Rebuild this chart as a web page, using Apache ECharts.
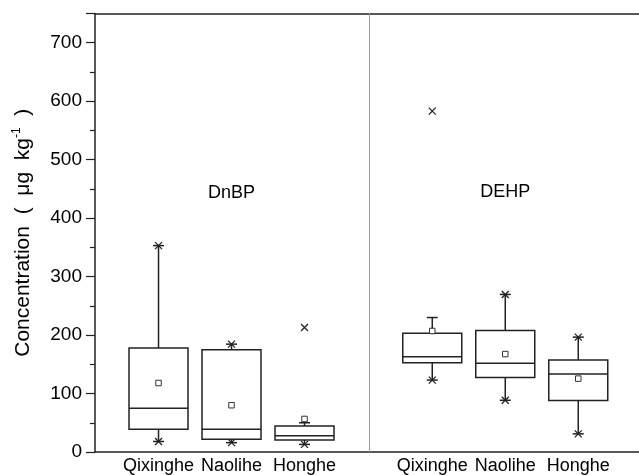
<!DOCTYPE html>
<html>
<head>
<meta charset="utf-8">
<script src="https://cdn.jsdelivr.net/npm/echarts@6/dist/echarts.min.js"></script>
<style>html,body{margin:0;padding:0;background:#fff;}#c{width:639px;height:475px;}</style>
</head>
<body>
<div id="c"></div>
<script>
// ---- data ----
const sites = ['Qixinghe', 'Naolihe', 'Honghe', 'Qixinghe', 'Naolihe', 'Honghe'];
const compounds = ['DnBP', 'DEHP'];
const xPos = [1, 2, 3, 4.75, 5.75, 6.75];
const compoundPos = [2, 5.75];
const compoundLabelY = [443, 444];
const dividerPos = 3.875;
const whiskerLow = [18, 16, 13, 123, 88.5, 31];
const q1 = [39, 22, 20.5, 152.5, 127.5, 88];
const median = [75, 39, 28, 163, 152, 133.5];
const q3 = [178, 175, 44.5, 203, 208, 157.5];
const whiskerHigh = [353, 184.5, 50, 230, 269.5, 196.5];
const means = [118, 80, 56.5, 207, 167.5, 125.5];
// x-marked points (extremes / outliers): [siteIndex, value]
const crossIdx = [0, 0, 1, 1, 2, 2, 3, 3, 4, 4, 5, 5];
const crossVal = [353, 18, 184.5, 16, 213, 13, 583, 123, 269.5, 88.5, 196.5, 31];
const yTicks = [0, 100, 200, 300, 400, 500, 600, 700];

const boxData = xPos.map((x, i) => [x, whiskerLow[i], q1[i], median[i], q3[i], whiskerHigh[i]]);
const meanData = xPos.map((x, i) => [x, means[i]]);
const crossData = crossIdx.map((k, i) => [xPos[k], crossVal[i]]);
const labelData = compounds.map((c, i) => ({ value: [compoundPos[i], compoundLabelY[i]], name: c }));

const INK = '#222';
const TXT = '#000';
const FONT = 'Liberation Sans, Arial, sans-serif';
const X_MIN = 0.13, X_MAX = 7.582;

const chart = echarts.init(document.getElementById('c'), null, { renderer: 'canvas' });
chart.setOption({
  backgroundColor: '#fff',
  animation: false,
  grid: { left: 95, top: 13.5, bottom: 23, right: 0, show: false },
  xAxis: [{
    type: 'value', min: X_MIN, max: X_MAX,
    splitLine: { show: false },
    axisLine: { show: true, onZero: false, lineStyle: { color: INK, width: 1.5 } },
    axisTick: { show: false },
    axisLabel: {
      customValues: xPos,
      margin: 5,
      color: TXT, fontSize: 18, fontFamily: FONT,
      formatter: function (v) { const i = xPos.indexOf(v); return i >= 0 ? sites[i] : ''; }
    }
  }, {
    type: 'value', position: 'top', min: X_MIN, max: X_MAX,
    splitLine: { show: false },
    axisLine: { show: true, onZero: false, lineStyle: { color: INK, width: 1.5 } },
    axisTick: { show: false },
    axisLabel: { show: false }
  }],
  yAxis: {
    type: 'value', min: 0, max: 750, interval: 100,
    name: 'Concentration  (  {n|μg  kg}{s|-1}{n|  )}',
    nameLocation: 'middle', nameGap: 60, nameRotate: 90,
    nameTextStyle: {
      fontSize: 21, fontFamily: FONT, color: TXT,
      rich: {
        n: { fontSize: 21, fontFamily: FONT, color: TXT },
        s: { fontSize: 12, fontFamily: FONT, color: TXT, verticalAlign: 'top', padding: [0, 0, 12, 0] }
      }
    },
    splitLine: { show: false },
    axisLine: { show: true, lineStyle: { color: INK, width: 1.5 } },
    axisTick: { show: true, inside: false, length: 9, lineStyle: { color: INK, width: 1.2 } },
    minorTick: { show: true, splitNumber: 2, length: 5, lineStyle: { color: INK, width: 1.2 } },
    axisLabel: {
      margin: 13, color: TXT, fontSize: 19, fontFamily: FONT,
      showMaxLabel: false,
      formatter: function (v) { return yTicks.indexOf(v) >= 0 ? String(v) : ''; }
    }
  },
  series: [
    {
      type: 'custom',
      data: boxData,
      encode: { x: 0, y: [1, 2, 3, 4, 5] },
      renderItem: function (params, api) {
        const x = api.value(0);
        const pMin = api.coord([x, api.value(1)]);
        const pQ1 = api.coord([x, api.value(2)]);
        const pMed = api.coord([x, api.value(3)]);
        const pQ3 = api.coord([x, api.value(4)]);
        const pMax = api.coord([x, api.value(5)]);
        const cx = pMed[0];
        const hw = 29.5, cw = 5.5;
        const st = { stroke: INK, lineWidth: 1.5, fill: null };
        return {
          type: 'group',
          children: [
            { type: 'line', shape: { x1: cx, y1: pQ3[1], x2: cx, y2: pMax[1] }, style: st },
            { type: 'line', shape: { x1: cx, y1: pQ1[1], x2: cx, y2: pMin[1] }, style: st },
            { type: 'line', shape: { x1: cx - cw, y1: pMax[1], x2: cx + cw, y2: pMax[1] }, style: st },
            { type: 'line', shape: { x1: cx - cw, y1: pMin[1], x2: cx + cw, y2: pMin[1] }, style: st },
            { type: 'rect', shape: { x: cx - hw, y: pQ3[1], width: 2 * hw, height: pQ1[1] - pQ3[1] }, style: { stroke: INK, lineWidth: 1.5, fill: '#fff' } },
            { type: 'line', shape: { x1: cx - hw, y1: pMed[1], x2: cx + hw, y2: pMed[1] }, style: st }
          ]
        };
      },
      markLine: {
        silent: true, symbol: 'none', label: { show: false },
        lineStyle: { color: '#9a9a9a', width: 1, type: 'solid' },
        data: [{ xAxis: dividerPos }]
      },
      z: 2
    },
    {
      type: 'scatter',
      data: meanData,
      symbol: 'rect', symbolSize: 5.5,
      itemStyle: { color: '#fff', borderColor: '#333', borderWidth: 1, opacity: 1 },
      z: 4
    },
    {
      type: 'scatter',
      data: crossData,
      symbol: 'path://M0,0L10,10M10,0L0,10', symbolSize: 7,
      itemStyle: { color: 'transparent', borderColor: '#222', borderWidth: 1.3, opacity: 1 },
      z: 5
    },
    {
      type: 'scatter',
      data: labelData,
      symbolSize: 0,
      itemStyle: { color: 'transparent', opacity: 1 },
      label: { show: true, position: 'inside', formatter: '{b}', fontSize: 18, fontFamily: FONT, color: TXT, textBorderWidth: 0, opacity: 1 },
      z: 6
    }
  ]
});
</script>
</body>
</html>
